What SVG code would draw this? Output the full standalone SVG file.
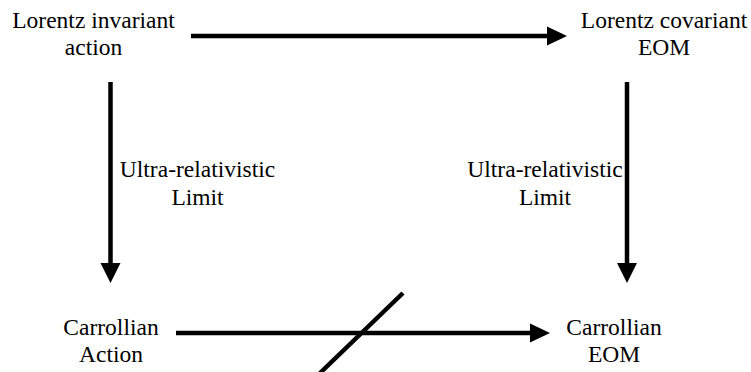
<svg xmlns="http://www.w3.org/2000/svg" width="751" height="372" viewBox="0 0 751 372">
<style>
  text { font-family: "Liberation Serif", "Times New Roman", serif; font-size: 23.5px; fill: #000; text-anchor: middle; }
  .edge { stroke: #000; stroke-width: 4.5; fill: none; }
  .head { fill: #000; stroke: none; }
</style>
<rect width="751" height="372" fill="#fff"/>
<g id="connectors">
  <g id="e-top">
    <line class="edge" x1="191" y1="36" x2="550" y2="36"/>
    <polygon class="head" points="567,36 547,26.5 547,45.5"/>
  </g>
  <g id="e-left">
    <line class="edge" x1="110.5" y1="82" x2="110.5" y2="266"/>
    <polygon class="head" points="110.5,283 100.5,263 120.5,263"/>
  </g>
  <g id="e-right">
    <line class="edge" x1="627" y1="82" x2="627" y2="266"/>
    <polygon class="head" points="627,283 617,263 637,263"/>
  </g>
  <g id="e-bottom">
    <line class="edge" x1="176" y1="333" x2="533" y2="333"/>
    <polygon class="head" points="550,333 530,323.5 530,342.5"/>
    <line class="edge" x1="403" y1="293" x2="320" y2="373"/>
  </g>
  <text x="197.5" y="177">Ultra-relativistic</text>
  <text x="197.5" y="205">Limit</text>
  <text x="545" y="177">Ultra-relativistic</text>
  <text x="545" y="205">Limit</text>
</g>
<g id="n-lorentz-action">
  <text x="93.5" y="28">Lorentz invariant</text>
  <text x="93.5" y="55">action</text>
</g>
<g id="n-lorentz-eom">
  <text x="664" y="28">Lorentz covariant</text>
  <text x="664" y="55">EOM</text>
</g>
<g id="n-carroll-action">
  <text x="111" y="335">Carrollian</text>
  <text x="111" y="362">Action</text>
</g>
<g id="n-carroll-eom">
  <text x="614" y="335">Carrollian</text>
  <text x="614" y="362">EOM</text>
</g>
</svg>
